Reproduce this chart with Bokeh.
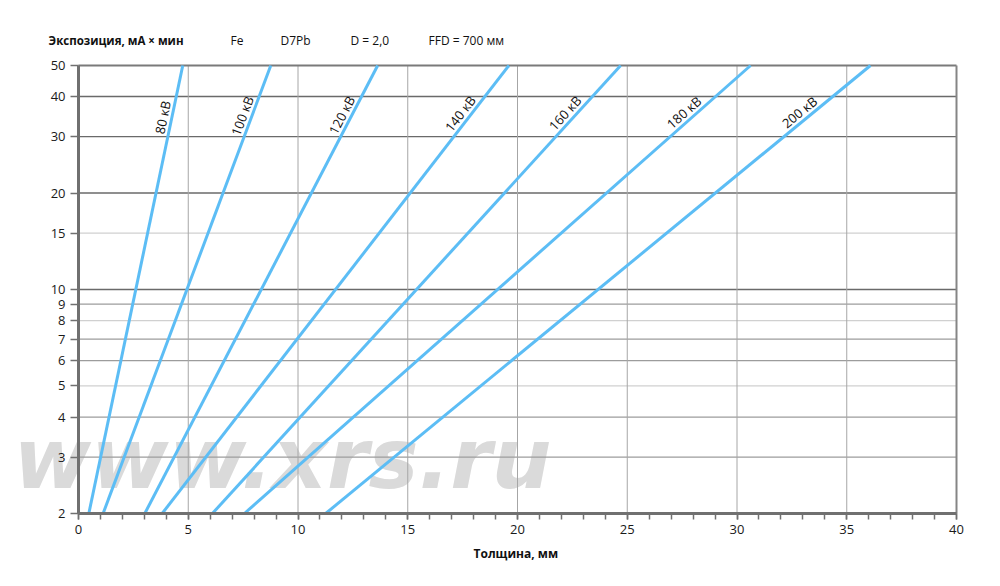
import math
from bokeh.plotting import figure
from bokeh.models import (Range1d, FixedTicker, SingleIntervalTicker, Title,
                          ColumnDataSource, PrintfTickFormatter)
from bokeh.embed import file_html
from bokeh.resources import INLINE
from bokeh.core.properties import value

# ---- data ----
kv_labels = ["80 кВ", "100 кВ", "120 кВ", "140 кВ", "160 кВ", "180 кВ", "200 кВ"]
thickness_at_2 = [0.47, 1.12, 3.02, 3.81, 6.10, 7.56, 11.26]      # mm at 2 mA*min
thickness_at_50 = [4.75, 8.76, 13.63, 19.61, 24.70, 30.62, 36.08]  # mm at 50 mA*min
exposure_low = 2
exposure_high = 50
label_exposure = 34
x_min, x_max = 0, 40
y_ticks = [2, 3, 4, 5, 6, 7, 8, 9, 10, 15, 20, 30, 40, 50]
grid_dark = [10, 20, 30, 40]
grid_mid = [3, 4, 6, 7, 9]
grid_light = [5, 8, 15]
x_grid = [5, 10, 15, 20, 25, 30, 35]
header_texts = ["Экспозиция, мА × мин", "Fe", "D7Pb", "D = 2,0", "FFD = 700 мм"]
x_title = "Толщина, мм"
watermark = "www.xrs.ru"

# ---- layout (pixels) ----
FONT = "Open Sans"
PLOT_LEFT = 78          # px from frame left to x=0
PLOT_W = 878            # px for 0..40 mm
PLOT_RIGHT = 18         # px right of x=40 kept inside the frame (last tick label)
PLOT_TOP = 45           # px from frame top to y=50
PLOT_H = 448            # px for 2..50
PLOT_BOTTOM = 28        # px below y=2 kept inside the frame (x tick labels)
px_mm = PLOT_W / (x_max - x_min)
px_dec = PLOT_H / (math.log10(exposure_high) - math.log10(exposure_low))
FW = PLOT_LEFT + PLOT_W + PLOT_RIGHT
FH = PLOT_TOP + PLOT_H + PLOT_BOTTOM
x_start = x_min - PLOT_LEFT / px_mm
x_end = x_max + PLOT_RIGHT / px_mm
y_end = exposure_high * 10 ** (PLOT_TOP / px_dec)
y_start = exposure_low / 10 ** (PLOT_BOTTOM / px_dec)


def px_to_x(px):
    return x_min + (px - PLOT_LEFT) / px_mm


p = figure(frame_width=FW, frame_height=FH,
           x_range=Range1d(x_start, x_end), y_range=Range1d(y_start, y_end),
           y_axis_type="log", output_backend="svg", toolbar_location=None,
           min_border_left=0, min_border_right=14, min_border_top=20, min_border_bottom=0)
p.background_fill_color = "white"
p.border_fill_color = "white"
p.outline_line_color = None
p.xgrid.visible = False
p.ygrid.visible = False

# watermark (behind everything); vertical centre ~55 px above the 2-line
wm_y = exposure_low * 10 ** (55 / px_dec)
p.text(x=[px_to_x(13)], y=[wm_y], text=[watermark], text_font=value("DejaVu Sans"),
       text_font_size="84px", text_font_style="bold italic", text_color="#dadada",
       text_baseline="middle", text_align="left", level="image")

# grid lines (drawn from the tick lists)
for ticks, col, w in ((grid_light, "#d0d0d0", 1.3), (grid_mid, "#9c9c9c", 1.2), (grid_dark, "#6a6a6a", 1.4)):
    p.segment(x0=[x_min] * len(ticks), x1=[x_max] * len(ticks), y0=ticks, y1=ticks,
              line_color=col, line_width=w)
p.segment(x0=x_grid, x1=x_grid, y0=[exposure_low] * len(x_grid), y1=[exposure_high] * len(x_grid),
          line_color="#a6a6a6", line_width=1)
# borders: top (50) and right (40)
p.segment(x0=[x_min], x1=[x_max], y0=[exposure_high], y1=[exposure_high],
          line_color="#7a7a7a", line_width=2)
p.segment(x0=[x_max], x1=[x_max], y0=[exposure_low], y1=[exposure_high],
          line_color="#858585", line_width=2)

# axes
p.xaxis.ticker = SingleIntervalTicker(interval=5, num_minor_ticks=5)
p.xaxis.fixed_location = exposure_low
p.xaxis.bounds = (x_min, x_max)
p.xaxis.axis_line_color = "#707070"
p.xaxis.axis_line_width = 3
p.xaxis.major_tick_line_color = "#707070"
p.xaxis.minor_tick_line_color = "#707070"
p.xaxis.major_tick_line_width = 1.5
p.xaxis.minor_tick_line_width = 1.5
p.xaxis.major_tick_in = 0
p.xaxis.major_tick_out = 6
p.xaxis.minor_tick_in = 0
p.xaxis.minor_tick_out = 6

p.yaxis.ticker = FixedTicker(ticks=y_ticks, minor_ticks=[])
p.yaxis.formatter = PrintfTickFormatter(format="%d")
p.yaxis.fixed_location = x_min
p.yaxis.bounds = (exposure_low, exposure_high)
p.yaxis.axis_line_color = "#707070"
p.yaxis.axis_line_width = 3
p.yaxis.major_tick_line_color = "#707070"
p.yaxis.major_tick_line_width = 1.5
p.yaxis.major_tick_in = 0
p.yaxis.major_tick_out = 8
p.yaxis.minor_tick_line_color = None

for ax in (p.xaxis, p.yaxis):
    ax.major_label_text_font = FONT
    ax.major_label_text_font_size = "13px"
    ax.major_label_text_color = "#1a1a1a"
    ax.major_label_standoff = 5

# x-axis title, placed under the 0..40 span
xt = Title(text=x_title, align="left", offset=473, text_font=FONT, text_font_size="12px",
           text_font_style="bold", text_color="#111111", standoff=2)
p.add_layout(xt, "below")

# curves
src = ColumnDataSource(dict(
    xs=[[a, b] for a, b in zip(thickness_at_2, thickness_at_50)],
    ys=[[exposure_low, exposure_high] for _ in kv_labels],
))
p.multi_line("xs", "ys", source=src, line_color="#5cbdf5", line_width=3)

# labels along curves
t = (math.log10(label_exposure) - math.log10(exposure_low)) / (math.log10(exposure_high) - math.log10(exposure_low))
lx, ly, ang = [], [], []
for a, b in zip(thickness_at_2, thickness_at_50):
    lx.append(a + t * (b - a))
    ly.append(label_exposure)
    ang.append(math.atan2(PLOT_H, (b - a) * px_mm))
p.text(x=lx, y=ly, text=kv_labels, angle=ang, text_align="center", text_baseline="bottom",
       text_font=value(FONT), text_font_size="13px", text_color="#111111")

# header line
header_px = [48, 230, 280, 350, 428]
hx = [px_to_x(px) for px in header_px]
hy = [exposure_high * 10 ** (25 / px_dec)] * len(header_texts)
p.text(x=hx[:1], y=hy[:1], text=header_texts[:1], text_font=value(FONT), text_font_size="11.5px",
       text_font_style="bold", text_color="#111111", text_baseline="middle", text_align="left")
p.text(x=hx[1:], y=hy[1:], text=header_texts[1:], text_font=value(FONT), text_font_size="12px",
       text_color="#111111", text_baseline="middle", text_align="left")

open("out.html", "w").write(file_html(p, INLINE))
